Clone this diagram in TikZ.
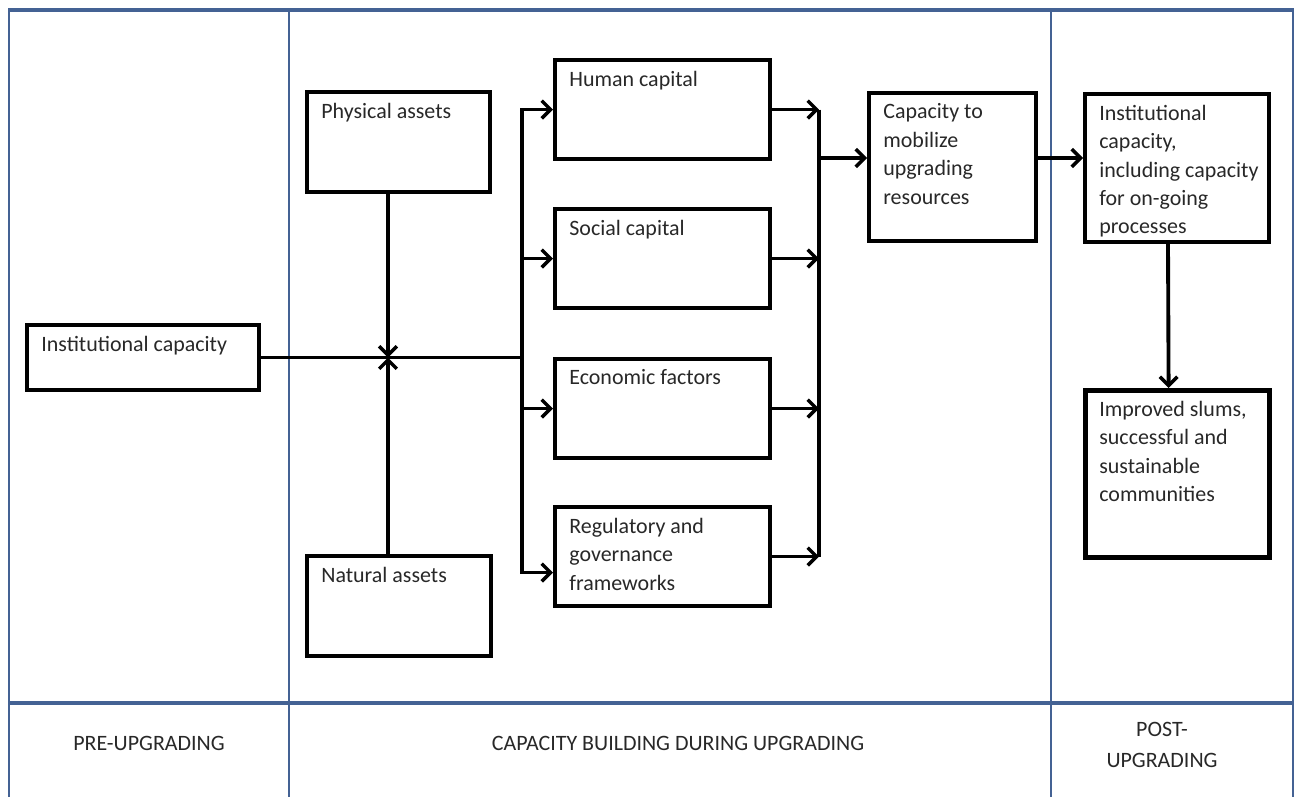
\documentclass[tikz,border=0pt]{standalone}
\usepackage{fontspec}
\setmainfont{Carlito}
\usetikzlibrary{arrows.meta, positioning}
\definecolor{bandblue}{RGB}{68,98,148}
\definecolor{txtgray}{RGB}{40,40,40}

\begin{document}
\begin{tikzpicture}[
  x=0.02cm, y=-0.02cm,
  every node/.style={font=\fontsize{12.5}{16.2}\selectfont, text=txtgray},
  box/.style={rectangle, draw=black, line width=2.3pt, anchor=north west, inner sep=0pt},
  txt/.style={anchor=north west, align=left, inner xsep=0.32cm, inner ysep=0.25cm},
  arr/.style={-{Straight Barb[length=5pt, width=10pt, line width=2pt]}, line width=2.2pt},
  lnk/.style={line width=2.2pt},
  frame/.style={draw=bandblue, line width=1.2pt},
  phase/.style={font=\fontsize{12.5}{17.6}\selectfont, align=center}
]
  \useasboundingbox (0,0) rectangle (1296,797);

  % phase frame
  \draw[frame] (9,797) -- (9,10);
  \draw[frame] (289,10) -- (289,797);
  \draw[frame] (1051,10) -- (1051,797);
  \draw[frame] (1293,10) -- (1293,797);
  \draw[frame, line width=1.9pt] (8,10) -- (1294,10);
  \draw[frame, line width=1.9pt] (8,703) -- (1294,703);

  \node[phase] (pre)    at (149,743)  {PRE-UPGRADING};
  \node[phase] (during) at (678,743)  {CAPACITY BUILDING DURING UPGRADING};
  \node[phase] (after)  at (1162,745) {POST-\\UPGRADING};

  % boxes
  \node[box, minimum width=4.64cm, minimum height=1.30cm,
        label={[txt]north west:Institutional capacity}] (inst) at (25,323) {};
  \node[box, minimum width=3.66cm, minimum height=2.0cm,
        label={[txt]north west:Physical assets}] (phys) at (305,90) {};
  \node[box, minimum width=3.68cm, minimum height=2.0cm,
        label={[txt]north west:Natural assets}] (nat) at (305,554) {};
  \node[box, minimum width=4.30cm, minimum height=1.98cm,
        label={[txt]north west:Human capital}] (human) at (553,58) {};
  \node[box, minimum width=4.30cm, minimum height=1.98cm,
        label={[txt]north west:Social capital}] (social) at (553,207) {};
  \node[box, minimum width=4.30cm, minimum height=1.98cm,
        label={[txt]north west:Economic factors}] (econ) at (553,357) {};
  \node[box, minimum width=4.30cm, minimum height=1.98cm,
        label={[txt]north west:Regulatory and\\governance\\frameworks}] (reg) at (553,505) {};
  \node[box, minimum width=3.34cm, minimum height=2.96cm,
        label={[txt]north west:Capacity to\\mobilize\\upgrading\\resources}] (cap) at (867,91) {};
  \node[box, minimum width=3.68cm, minimum height=2.96cm,
        label={[txt]north west:Institutional\\capacity,\\including capacity\\for on-going\\processes}] (instpost) at (1083,92) {};
  \node[box, line width=3pt, minimum width=3.68cm, minimum height=3.34cm,
        label={[txt]north west:Improved slums,\\successful and\\sustainable\\communities}] (improved) at (1083,388) {};

  % junctions
  \coordinate (meet)  at (388,0 |- inst.east);
  \coordinate (split) at (522,0 |- inst.east);
  \coordinate (join)  at (819,158);

  % connectors
  \draw[lnk] (inst.east) -- (split);
  \draw[arr] (phys.south -| meet) -- (meet);
  \draw[arr] (nat.north -| meet) -- (meet);
  \draw[arr] (split) |- (human.west);
  \draw[arr] (split) |- (social.west);
  \draw[arr] (split) |- (econ.west);
  \draw[arr] (split) |- ([yshift=-0.32cm]reg.west);
  \draw[arr] (human.east) -- (human.east -| join);
  \draw[arr] (social.east) -- (social.east -| join);
  \draw[arr] (econ.east) -- (econ.east -| join);
  \draw[arr] (reg.east) -- (reg.east -| join);
  \draw[lnk] (human.east -| join) -- (reg.east -| join);
  \draw[arr] (join) -- (cap.west |- join);
  \draw[arr] (cap.east |- join) -- (instpost.west |- join);
  \draw[arr] ([xshift=-0.18cm]instpost.south) -- ([xshift=-0.18cm]improved.north);
\end{tikzpicture}
\end{document}
